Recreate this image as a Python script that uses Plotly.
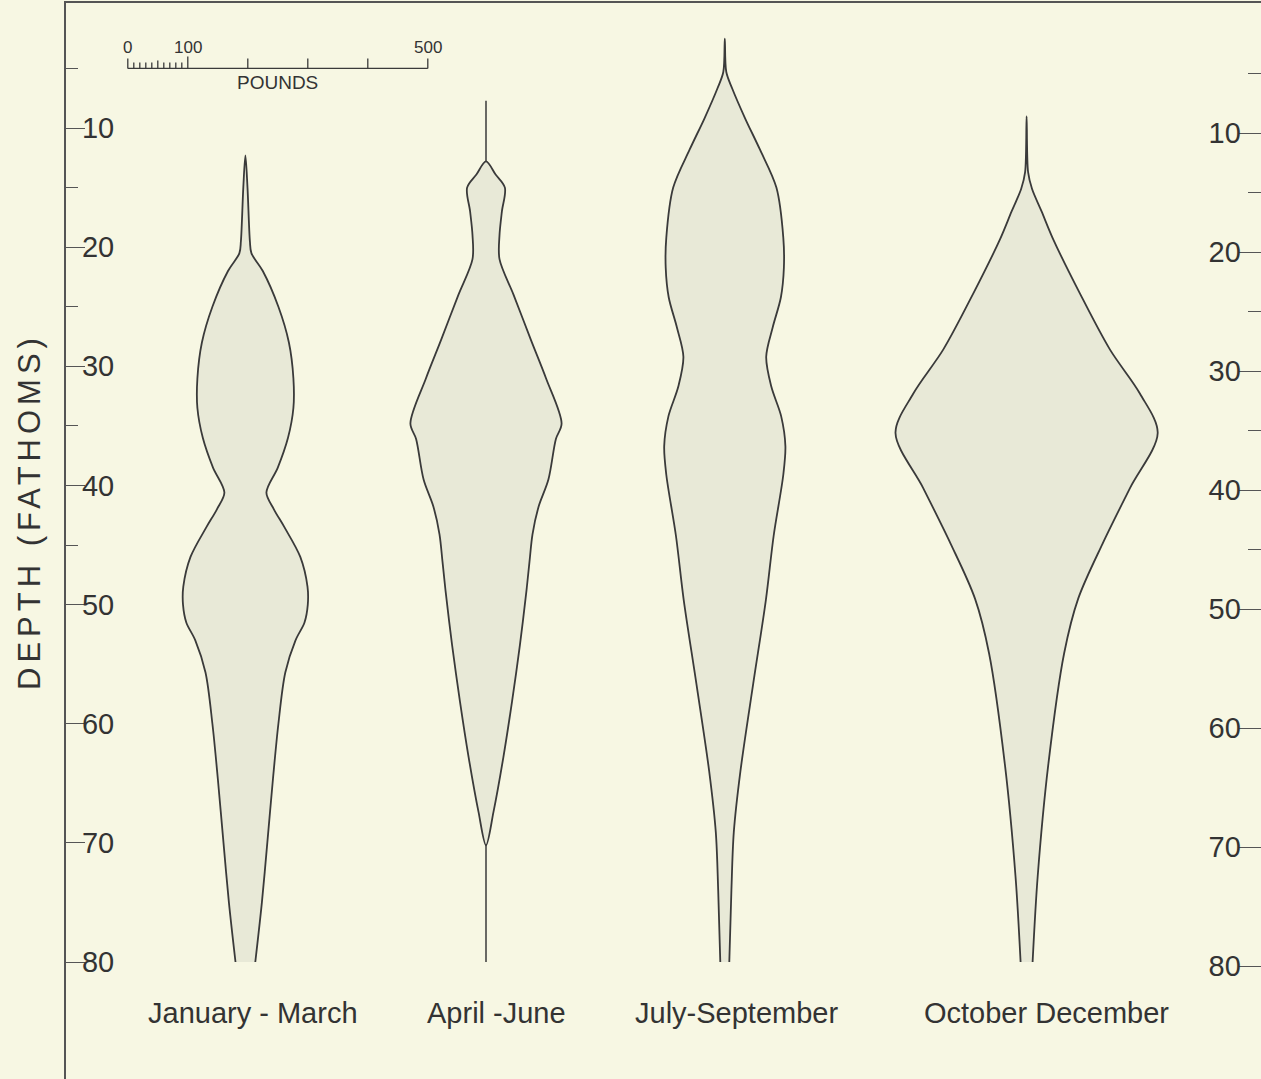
import plotly.graph_objects as go

# ---------------- data ----------------
seasons = ["January - March", "April -June", "July-September", "October December"]
positions = [299, 700, 1098, 1601]          # centre of each profile on the pounds axis
label_shift = [8, 10, 12, 20]               # small horizontal offsets of the season labels (px)

jan_depth = [12.3, 15, 19.5, 20.5, 22, 25, 28, 31, 33.5, 36, 38.5, 40.6, 42, 43.5, 46,
             48.5, 50, 51.5, 53, 55.7, 60, 64.6, 70, 75, 80]
jan_lbs = [0, 7, 15, 20, 58, 110, 145, 160, 160, 142, 108, 70, 95, 130, 183,
           207, 208, 197, 167, 133, 110, 92, 73, 55, 33]

apr_depth = [7.7, 12.8, 13.9, 15, 17, 19, 21, 24, 27.8, 31, 34.8, 36.1, 39.5, 41.8, 44.1,
             46.4, 48.8, 53.4, 58.1, 62.8, 67.4, 70.2, 80]
apr_lbs = [0, 0, 32, 63, 53, 45, 45, 92, 150, 200, 252, 233, 208, 175, 155,
           145, 135, 113, 87, 58, 25, 0, 0]

jul_depth = [2.5, 5.3, 6.7, 9.2, 11.8, 15, 19.2, 21.7, 24.2, 26.7, 29.2, 31.7, 34.2,
             36.7, 39.1, 44.2, 49.6, 56.6, 64, 69.1, 74, 80]
jul_lbs = [0, 5, 25, 68, 117, 172, 195, 197, 187, 160, 138, 155, 188,
           202, 195, 163, 137, 95, 52, 30, 22, 15]

oct_depth = [9, 13.7, 15.1, 17, 19.3, 23.9, 28.6, 32.3, 35.6, 40.2, 44.9, 49.5, 54.1,
             63.5, 72.8, 80]
oct_lbs = [0, 5, 18, 50, 88, 178, 278, 378, 437, 345, 253, 172, 125, 72, 37, 20]

depth_ticks = [10, 20, 30, 40, 50, 60, 70, 80]
depth_minor = [5, 15, 25, 35, 45]

scale_origin = 103                       # where the pounds scale bar starts (pounds axis)
scale_major = [0, 100, 200, 300, 400, 500]
scale_minor = [10, 20, 30, 40, 50, 60, 70, 80, 90]
scale_labels = {0: "0", 100: "100", 500: "500"}
scale_depth = 5

# ---------------- style ----------------
BG = "#F7F7E3"
FILL = "#E8E9D7"
LINE = "#3A3A3A"
TXT = "#333333"
FONT = "Liberation Sans, Arial, sans-serif"
PX_PER_FATHOM = 11.914

fig = go.Figure()


def add_profile(pos, depths, lbs):
    n = len(lbs)
    i0 = 0
    while i0 + 1 < n and lbs[i0 + 1] == 0:
        i0 += 1
    i1 = n - 1
    while i1 - 1 >= 0 and lbs[i1 - 1] == 0:
        i1 -= 1
    # thin stems where the catch is zero
    if i0 > 0:
        fig.add_trace(go.Scatter(x=[pos, pos], y=[depths[0], depths[i0]], mode="lines",
                                 line=dict(color=LINE, width=1.5), hoverinfo="skip",
                                 showlegend=False))
    if i1 < n - 1:
        fig.add_trace(go.Scatter(x=[pos, pos], y=[depths[i1], depths[-1]], mode="lines",
                                 line=dict(color=LINE, width=1.5), hoverinfo="skip",
                                 showlegend=False))
    d = depths[i0:i1 + 1]
    w = lbs[i0:i1 + 1]
    xs = [pos - v / 2 for v in reversed(w)] + [pos + v / 2 for v in w[1:]]
    ys = list(reversed(d)) + d[1:]
    fig.add_trace(go.Scatter(x=xs, y=ys, mode="lines", fill="toself", fillcolor=FILL,
                             line=dict(color=LINE, width=1.8, shape="spline", smoothing=0.9),
                             hoverinfo="skip", showlegend=False))


for pos, dep, lb in zip(positions,
                        [jan_depth, apr_depth, jul_depth, oct_depth],
                        [jan_lbs, apr_lbs, jul_lbs, oct_lbs]):
    add_profile(pos, dep, lb)

# season labels
for pos, name, sh in zip(positions, seasons, label_shift):
    fig.add_annotation(x=pos, y=84.3, text=name, showarrow=False, xshift=sh,
                       font=dict(family=FONT, size=29, color=TXT),
                       xanchor="center", yanchor="middle")

# pounds scale bar
sx, sy = [], []
sx += [scale_origin + scale_major[0], scale_origin + scale_major[-1], None]
sy += [scale_depth, scale_depth, None]
for v in scale_major:
    h = (12 if v == 100 else 10) / PX_PER_FATHOM
    sx += [scale_origin + v, scale_origin + v, None]
    sy += [scale_depth, scale_depth - h, None]
for v in scale_minor:
    h = (8 if v == 50 else 6) / PX_PER_FATHOM
    sx += [scale_origin + v, scale_origin + v, None]
    sy += [scale_depth, scale_depth - h, None]
fig.add_trace(go.Scatter(x=sx, y=sy, mode="lines", line=dict(color=LINE, width=1.3),
                         hoverinfo="skip", showlegend=False))
for v, t in scale_labels.items():
    fig.add_annotation(x=scale_origin + v, y=scale_depth - 1.75, text=t, showarrow=False,
                       font=dict(family=FONT, size=17, color=TXT), xanchor="center",
                       yanchor="middle")
fig.add_annotation(x=scale_origin + 250, y=scale_depth + 1.2, text="POUNDS", showarrow=False,
                   font=dict(family=FONT, size=19, color=TXT), xanchor="center",
                   yanchor="middle")

# axis title
fig.add_annotation(xref="paper", yref="paper", x=-36 / 1195, y=0.527,
                   text='<span style="letter-spacing:5px">DEPTH (FATHOMS)</span>',
                   textangle=-90, showarrow=False,
                   font=dict(family=FONT, size=31, color=TXT),
                   xanchor="center", yanchor="middle")

# invisible trace to attach the right-hand depth axis
fig.add_trace(go.Scatter(x=[None], y=[None], yaxis="y2", showlegend=False, hoverinfo="skip"))

W, H = 1261, 1079
ML, MT = 66, 3
plot_w = W - ML
fig.update_layout(
    width=W, height=H,
    margin=dict(l=ML, r=0, t=MT, b=0),
    paper_bgcolor=BG, plot_bgcolor=BG,
    showlegend=False,
    xaxis=dict(range=[0, plot_w / 0.6], side="top", showline=True, linecolor="#555555",
               linewidth=1.5, showticklabels=False, ticks="", showgrid=False,
               zeroline=False, fixedrange=True),
    yaxis=dict(range=[(H - 8.9) / PX_PER_FATHOM, (MT - 8.9) / PX_PER_FATHOM],
               showline=True, linecolor="#555555", linewidth=1.5,
               tickmode="array", tickvals=depth_ticks, ticktext=[str(t) for t in depth_ticks],
               ticks="inside", ticklen=19, tickwidth=1.3, tickcolor="#555555",
               ticklabelposition="inside",
               tickfont=dict(family=FONT, size=29, color=TXT),
               minor=dict(tickmode="array", tickvals=depth_minor, ticks="inside",
                          ticklen=12, tickwidth=1.3, tickcolor="#555555", showgrid=False),
               showgrid=False, zeroline=False),
    yaxis2=dict(overlaying="y", side="right", anchor="x",
                range=[10 + (H - 133) / 11.9, 10 - (133 - MT) / 11.9],
                showline=False,
                tickmode="array", tickvals=depth_ticks, ticktext=[str(t) for t in depth_ticks],
                ticks="inside", ticklen=23, tickwidth=1.3, tickcolor="#555555",
                ticklabelposition="inside",
                tickfont=dict(family=FONT, size=29, color=TXT),
                minor=dict(tickmode="array", tickvals=depth_minor, ticks="inside",
                           ticklen=13, tickwidth=1.3, tickcolor="#555555", showgrid=False),
                showgrid=False, zeroline=False),
)

fig.write_html(
    "out.html",
    config={"displayModeBar": False},
    post_script="document.body.style.margin='0';document.body.style.overflow='hidden';"
                "document.body.style.background='" + BG + "';",
)
